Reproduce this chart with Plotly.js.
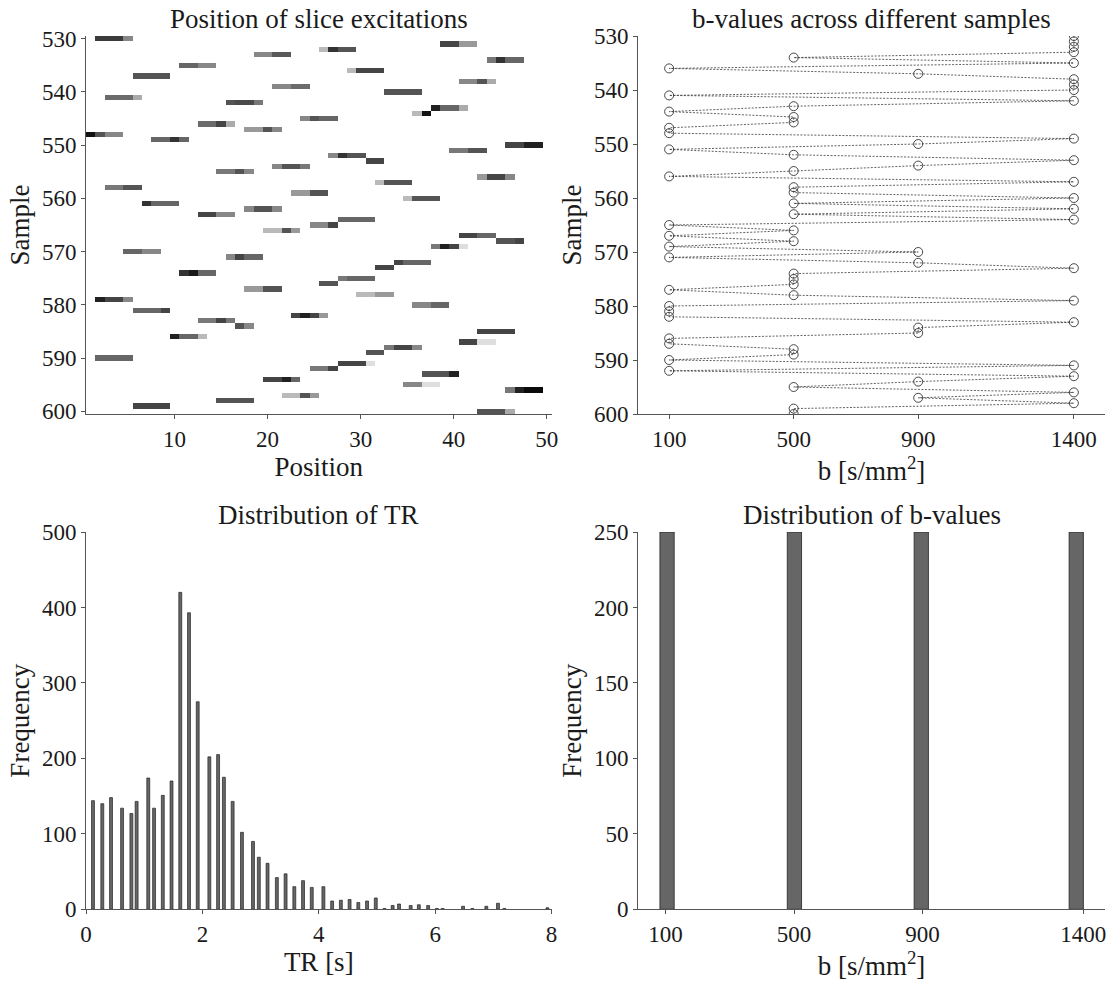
<!DOCTYPE html>
<html>
<head>
<meta charset="utf-8">
<script src="https://cdn.plot.ly/plotly-3.0.1.min.js"></script>
<style>html,body{margin:0;padding:0;background:#fff;}</style>
</head>
<body>
<div id="chart" style="width:1112px;height:988px;"></div>
<script>
// ---------- data ----------
const samples = [530,531,532,533,534,535,536,537,538,539,540,541,542,543,544,545,546,547,548,549,
  550,551,552,553,554,555,556,557,558,559,560,561,562,563,564,565,566,567,568,569,
  570,571,572,573,574,575,576,577,578,579,580,581,582,583,584,585,586,587,588,589,
  590,591,592,593,594,595,596,597,598,599,600];

const positions = [1,2,3,4,5,6,7,8,9,10,11,12,13,14,15,16,17,18,19,20,21,22,23,24,25,
  26,27,28,29,30,31,32,33,34,35,36,37,38,39,40,41,42,43,44,45,46,47,48,49,50];

// first excited position of each sample
const sliceStart = [2,39,26,19,44,11,29,6,41,21,33,3,16,38,36,24,13,18,1,8,
  46,40,27,31,21,15,43,32,3,23,35,7,18,13,28,25,20,41,45,38,
  5,16,34,32,11,28,26,18,30,2,36,6,23,13,17,43,10,41,33,31,
  2,28,25,37,20,35,46,22,15,6,43];

// intensity of the consecutive excited positions of each sample
const sliceIntensity = [
  [0.77,0.77,0.77,0.47],[0.73,0.73,0.40,0.40],[0.27,0.80,0.67,0.67],[0.47,0.47,0.65,0.65],
  [0.53,0.80,0.60,0.60],[0.60,0.60,0.47,0.47],[0.27,0.73,0.73,0.73],[0.67,0.67,0.67,0.67],
  [0.47,0.47,0.67,0.33],[0.47,0.47,0.58,0.58],[0.67,0.67,0.67,0.67],[0.58,0.58,0.58,0.33],
  [0.67,0.71,0.71,0.53],[0.87,0.60,0.60,0.33],[0.27,0.93],[0.47,0.67,0.60,0.60],
  [0.58,0.58,0.73,0.33],[0.40,0.40,0.67,0.47],[0.93,0.67,0.47,0.47],[0.60,0.60,0.80,0.60],
  [0.73,0.73,0.87,0.87],[0.53,0.53,0.67,0.67],[0.47,0.80,0.67,0.67],[0.73,0.73],
  [0.47,0.67,0.67,0.53],[0.53,0.53,0.67,0.47],[0.40,0.73,0.73,0.47],[0.27,0.67,0.67,0.67],
  [0.53,0.53,0.67,0.67],[0.40,0.40,0.67,0.67],[0.27,0.67,0.67,0.67],[0.80,0.60,0.60,0.60],
  [0.47,0.67,0.67,0.47],[0.73,0.73,0.47,0.47],[0.60,0.60,0.60,0.60],[0.47,0.47,0.73],
  [0.27,0.27,0.67,0.40],[0.73,0.73,0.60,0.60],[0.67,0.67,0.73],[0.53,0.87,0.73,0.13],
  [0.60,0.60,0.47,0.47],[0.47,0.73,0.60,0.60],[0.73,0.60,0.60,0.60],[0.73,0.73],
  [0.80,0.90,0.60,0.60],[0.53,0.60,0.60,0.60],[0.67,0.67],[0.40,0.40,0.67,0.67],
  [0.27,0.27,0.40,0.40],[0.87,0.73,0.73,0.47],[0.47,0.47,0.60,0.60],[0.60,0.60,0.60,0.73],
  [0.73,0.87,0.73,0.40],[0.53,0.53,0.73,0.53],[0.67,0.47],[0.73,0.73,0.73,0.73],
  [0.87,0.60,0.60,0.27],[0.73,0.73,0.13,0.13],[0.53,0.73,0.73,0.47],[0.67,0.67],
  [0.60,0.60,0.60,0.60],[0.73,0.73,0.73,0.13],[0.53,0.53,0.73],[0.67,0.67,0.67,0.87],
  [0.73,0.73,0.87,0.60],[0.47,0.47,0.13,0.13],[0.53,0.87,0.96,0.96],[0.27,0.27,0.67,0.40],
  [0.67,0.67,0.67,0.67],[0.73,0.73,0.73,0.73],[0.67,0.67,0.67,0.33]
];

// b-value of each sample
const bValues = [1400,1400,1400,1400,500,1400,100,900,1400,1400,1400,100,1400,500,100,500,500,100,100,1400,
  900,100,500,1400,900,500,100,1400,500,500,1400,500,1400,500,1400,100,500,100,500,100,
  900,100,900,1400,500,500,500,100,500,1400,100,100,100,1400,900,900,100,100,500,500,
  100,1400,100,1400,900,500,1400,900,1400,500,500];

// TR histogram
const trCenters = [0.12,0.28,0.43,0.62,0.78,0.87,1.07,1.17,1.32,1.47,1.62,1.77,1.92,2.12,2.27,2.37,
  2.52,2.68,2.87,2.97,3.12,3.28,3.43,3.58,3.73,3.88,4.08,4.23,4.38,4.53,4.68,4.83,4.98,
  5.13,5.27,5.38,5.58,5.72,5.88,6.03,6.13,6.48,6.64,6.88,7.08,7.19,7.93];
const trCounts = [144,140,148,134,127,143,174,134,151,170,420,393,275,202,205,175,
  143,102,90,69,61,42,47,30,38,29,30,11,12,13,9,11,15,
  1,5,7,5,6,5,1,1,4,1,4,8,1,2];

// b-value histogram
const bBinCenters = [104.5,501,896,1378.5];
const bCounts = [250,250,250,250];
const bTicks = [100,500,900,1400];
const sampleTicks = [530,540,550,560,570,580,590,600];

// ---------- build ----------
const z = samples.map((s, i) => positions.map(p => {
  const k = p - sliceStart[i];
  return (k >= 0 && k < sliceIntensity[i].length) ? sliceIntensity[i][k] : 0;
}));

const FAMILY = '"Liberation Serif", "Times New Roman", serif';
const TXT = '#1a1a1a';
const W = 1112, H = 988;
const colL = [86/W, 551.5/W], colR = [638/W, 1105/W];
const rowT = [1-414/H, 1-36/H], rowB = [1-909.3/H, 1-532/H];

function f(size) { return {family: FAMILY, size: size, color: TXT}; }
function ttl(text) { return {text: text, font: f(27), standoff: 4}; }
function ax(extra) {
  return Object.assign({
    showline: true, linecolor: '#555', linewidth: 1,
    ticks: 'outside', ticklen: 4, tickcolor: '#555', tickwidth: 1,
    showgrid: false, zeroline: false, automargin: false,
    tickfont: f(23)
  }, extra);
}

const traces = [
  {type: 'heatmap', x: positions, y: samples, z: z, xaxis: 'x', yaxis: 'y',
   colorscale: [[0, '#ffffff'], [1, '#000000']], zmin: 0, zmax: 1, showscale: false, hoverinfo: 'skip'},
  {type: 'scatter', mode: 'lines+markers', x: bValues, y: samples, xaxis: 'x2', yaxis: 'y2',
   line: {color: '#3a3a3a', width: 0.8, dash: '2px,1.5px'},
   marker: {symbol: 'circle-open', size: 9, color: '#333', line: {width: 0.9}}, hoverinfo: 'skip'},
  {type: 'bar', x: trCenters, y: trCounts, xaxis: 'x3', yaxis: 'y3', width: 0.05,
   marker: {color: '#666', line: {color: '#222', width: 0.7}}, hoverinfo: 'skip'},
  {type: 'bar', x: bBinCenters, y: bCounts, xaxis: 'x4', yaxis: 'y4', width: 44.5,
   marker: {color: '#666', line: {color: '#222', width: 0.8}}, hoverinfo: 'skip'}
];

const layout = {
  width: W, height: H, margin: {l: 0, r: 0, t: 0, b: 0},
  paper_bgcolor: '#fff', plot_bgcolor: 'rgba(0,0,0,0)', showlegend: false,
  font: f(23),
  xaxis: ax({domain: colL, anchor: 'y', range: [0.5, 50.5], tickvals: [10,20,30,40,50], title: ttl('Position')}),
  yaxis: ax({domain: rowT, anchor: 'x', range: [600.5, 529.5], tickvals: sampleTicks, title: ttl('Sample')}),
  xaxis2: ax({domain: colR, anchor: 'y2', range: [0, 1500], tickvals: bTicks, title: ttl('b [s/mm<sup>2</sup>]')}),
  yaxis2: ax({domain: rowT, anchor: 'x2', range: [600, 530], tickvals: sampleTicks, title: ttl('Sample')}),
  xaxis3: ax({domain: colL, anchor: 'y3', range: [0, 8], tickvals: [0,2,4,6,8], title: ttl('TR [s]')}),
  yaxis3: ax({domain: rowB, anchor: 'x3', range: [0, 500], tickvals: [0,100,200,300,400,500], title: ttl('Frequency')}),
  xaxis4: ax({domain: colR, anchor: 'y4', range: [14, 1468], tickvals: bTicks, title: ttl('b [s/mm<sup>2</sup>]')}),
  yaxis4: ax({domain: rowB, anchor: 'x4', range: [0, 250], tickvals: [0,50,100,150,200,250], title: ttl('Frequency')}),
  bargap: 0,
  annotations: [
    {text: 'Position of slice excitations', x: (colL[0]+colL[1])/2, y: rowT[1]},
    {text: 'b-values across different samples', x: (colR[0]+colR[1])/2, y: rowT[1]},
    {text: 'Distribution of TR', x: (colL[0]+colL[1])/2, y: rowB[1]},
    {text: 'Distribution of b-values', x: (colR[0]+colR[1])/2, y: rowB[1]}
  ].map(a => Object.assign(a, {xref: 'paper', yref: 'paper', xanchor: 'center', yanchor: 'bottom',
    yshift: 0, showarrow: false, font: f(27)}))
};

Plotly.newPlot('chart', traces, layout, {staticPlot: true, displayModeBar: false});
</script>
</body>
</html>
